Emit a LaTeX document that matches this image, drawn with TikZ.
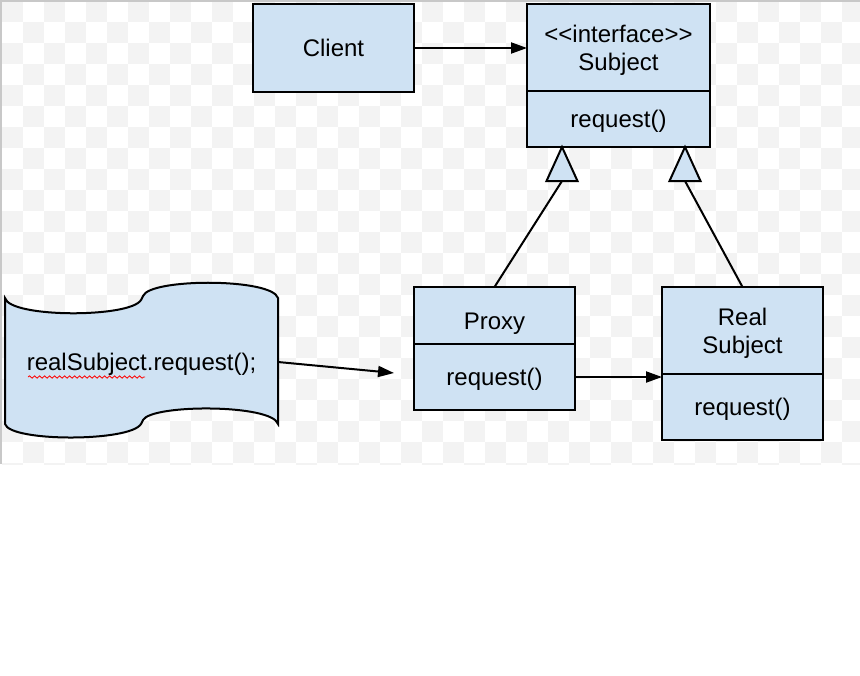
\documentclass[tikz,border=0pt]{standalone}
\usepackage{fontspec}
\setmainfont{Liberation Sans}
\usetikzlibrary{positioning,arrows.meta,shapes.geometric,decorations.pathmorphing}
\definecolor{boxblue}{HTML}{CFE2F3}
\definecolor{checkgray}{HTML}{F3F3F3}
\definecolor{framegray}{HTML}{C8C8C8}

\begin{document}
\begin{tikzpicture}[x=0.5pt, y=-0.5pt, line width=1pt,
    font=\fontsize{12}{14}\selectfont,
    umlbox/.style={draw, fill=boxblue, inner sep=0pt, outer sep=0pt, align=center, text depth=0pt},
    inherit/.style={draw, fill=boxblue, isosceles triangle, isosceles triangle stretches,
      shape border rotate=90, minimum width=15.5pt, minimum height=17pt, inner sep=0pt,
      outer sep=0pt, anchor=apex},
    call/.style={-{Triangle[length=8pt, width=5.5pt]}}]
  \useasboundingbox (0,0) rectangle (860,675);

  \begin{scope}
    \clip (0,0) rectangle (860,464);
    \foreach \i in {0,2,...,40}
      \foreach \j in {0,2,...,22} {
        \fill[checkgray] (\i*21+2, \j*21+1) rectangle +(21,21);
        \fill[checkgray] (\i*21+23, \j*21+22) rectangle +(21,21);
      }
  \end{scope}
  \draw[framegray] (0.5,464) -- (0.5,0.5) -- (860,0.5);

  \node[umlbox, minimum width=80.5pt, minimum height=44pt] (client) at (333.5,48) {Client};
  \node[umlbox, minimum width=91.5pt, minimum height=43.5pt] (subject) at (618.5,47.5) {{<}{<}interface{>}{>}\\Subject};
  \node[umlbox, minimum width=91.5pt, minimum height=28pt, below=0pt of subject] (subjectop) {request()};

  \node[umlbox, minimum width=80.5pt, minimum height=28.5pt] (proxy) at (494.5,315.5) {\raisebox{-2.5pt}[8.6pt][0pt]{Proxy}};
  \node[umlbox, minimum width=80.5pt, minimum height=33pt, below=0pt of proxy] (proxyop) {request()};

  \node[umlbox, minimum width=80.5pt, minimum height=43.5pt] (real) at (742.5,330.5) {Real\\Subject};
  \node[umlbox, minimum width=80.5pt, minimum height=33pt, below=0pt of real] (realop) {request()};

  \node[inherit] (proxytri) at (562,147) {};
  \node[inherit] (realtri) at (685,147) {};

  \draw[fill=boxblue] (5,298) .. controls (10,318) and (130,318) .. (141,300) -- (143,296)
    .. controls (150,278) and (272,278) .. (278,298) -- (278,424)
    .. controls (272,404) and (152,404) .. (143,420) -- (141,424)
    .. controls (130,442) and (10,442) .. (5,424) -- cycle;
  \node[minimum width=136.5pt, inner sep=0pt, outer sep=0pt, text depth=0pt] (caller) at (141.5,362) {realSubject.request();};
  \draw[red, line width=0.4pt, decorate, decoration={snake, amplitude=0.6pt, segment length=2.5pt}] (28,377) -- (145,377);
  \coordinate (callend) at (394,373);

  \draw[call] (client.east) -- (subject.west |- client.east);
  \draw (proxy.north) -- (proxytri.lower side);
  \draw (real.north) -- (realtri.lower side);
  \draw[call] (proxyop.east) -- (proxyop.east -| realop.west);
  \draw[call] (caller.east) -- (callend);
\end{tikzpicture}
\end{document}
